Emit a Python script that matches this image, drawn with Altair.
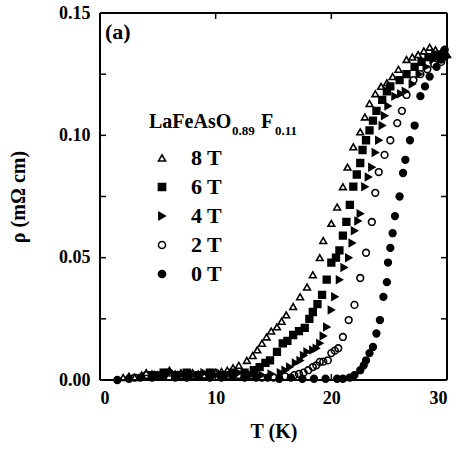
import altair as alt
import pandas as pd

# ---------------- data ----------------
fields = ["8 T", "6 T", "4 T", "2 T", "0 T"]

T_8 = [2.0, 2.5, 3.0, 3.6, 4.0, 4.5, 5.0, 5.5, 6.0, 6.5, 7.0, 7.5, 8.0, 8.5, 9.0, 9.5,
       10.0, 10.5, 11.0, 11.5, 12.0, 12.7, 13.2, 13.6, 14.0, 14.4, 14.8, 15.3, 15.7, 16.1,
       16.7, 17.3, 17.9, 18.4, 19.0, 19.3, 20.0, 20.5, 21.0, 21.4, 21.9, 22.5, 22.9, 23.3,
       23.8, 24.3, 24.8, 25.3, 25.8, 26.5, 27.0, 27.5, 28.0, 28.5, 29.0, 29.5, 30.0]
R_8 = [0.001, 0.0015, 0.001, 0.002, 0.003, 0.0025, 0.002, 0.003, 0.004, 0.0025, 0.003, 0.002,
       0.003, 0.0025, 0.002, 0.003, 0.003, 0.0035, 0.004, 0.005, 0.006, 0.008, 0.010, 0.0123,
       0.015, 0.0176, 0.020, 0.0217, 0.024, 0.0266, 0.030, 0.034, 0.038, 0.043, 0.050, 0.057,
       0.064, 0.0707, 0.079, 0.087, 0.0953, 0.1014, 0.1075, 0.113, 0.117, 0.120, 0.1215, 0.124,
       0.127, 0.131, 0.132, 0.133, 0.1345, 0.136, 0.135, 0.134, 0.133]

T_6 = [4.5, 5.5, 6.5, 7.5, 8.5, 9.5, 10.5, 11.5, 12.5, 13.3, 13.8, 14.3, 14.7, 15.3, 15.8,
       16.2, 16.7, 17.2, 17.7, 18.1, 18.4, 18.8, 19.2, 19.6, 20.0, 20.4, 20.7, 21.0, 21.3,
       21.6, 21.9, 22.2, 22.5, 22.7, 23.0, 23.3, 23.6, 23.9, 24.4, 24.8, 25.1, 25.9, 26.5,
       27.2, 27.8, 28.4, 29.0, 29.6]
R_6 = [0.002, 0.003, 0.002, 0.003, 0.002, 0.003, 0.002, 0.003, 0.003, 0.004, 0.0053, 0.007,
       0.008, 0.0115, 0.015, 0.016, 0.0184, 0.020, 0.0213, 0.025, 0.0278, 0.031, 0.0348, 0.041,
       0.048, 0.050, 0.053, 0.059, 0.0646, 0.0716, 0.079, 0.084, 0.0887, 0.094, 0.098, 0.102,
       0.106, 0.110, 0.1145, 0.118, 0.120, 0.1226, 0.125, 0.128, 0.130, 0.132, 0.133, 0.133]

T_4 = [5.0, 6.0, 7.0, 8.0, 9.0, 10.0, 11.0, 12.0, 13.0, 14.0, 14.8, 15.6, 16.0, 16.4, 16.9,
       17.3, 17.6, 17.9, 18.4, 18.7, 19.0, 19.3, 19.6, 20.0, 20.3, 20.7, 21.1, 21.5, 21.8,
       22.0, 22.3, 22.5, 22.9, 23.2, 23.5, 23.8, 24.1, 24.4, 24.6, 24.9, 25.5, 26.0, 26.4,
       27.0, 27.6, 28.2, 28.8, 29.4, 30.0]
R_4 = [0.002, 0.003, 0.002, 0.002, 0.003, 0.002, 0.002, 0.003, 0.002, 0.002, 0.0025, 0.003,
       0.004, 0.0053, 0.007, 0.008, 0.010, 0.0115, 0.0123, 0.013, 0.015, 0.018, 0.0217, 0.0286,
       0.034, 0.041, 0.046, 0.050, 0.056, 0.061, 0.065, 0.068, 0.079, 0.083, 0.087, 0.093,
       0.098, 0.104, 0.108, 0.112, 0.116, 0.117, 0.118, 0.121, 0.125, 0.128, 0.131, 0.132, 0.132]

T_2 = [3.0, 4.0, 5.0, 6.0, 7.0, 8.0, 9.0, 10.0, 11.0, 12.0, 13.0, 14.0, 15.0, 16.0, 16.8,
       17.2, 17.6, 18.0, 18.4, 18.7, 19.0, 19.3, 19.7, 20.0, 20.3, 20.6, 21.0, 21.5, 22.0,
       22.5, 23.0, 23.5, 23.8, 24.1, 24.6, 25.1, 25.7, 26.1, 26.5, 27.1, 27.7, 28.3, 28.9, 29.5]
R_2 = [0.001, 0.002, 0.002, 0.003, 0.002, 0.002, 0.002, 0.003, 0.002, 0.002, 0.002, 0.001,
       0.001, 0.0015, 0.002, 0.0025, 0.003, 0.004, 0.0053, 0.006, 0.0074, 0.0075, 0.008, 0.011,
       0.012, 0.013, 0.0176, 0.0245, 0.0307, 0.0417, 0.052, 0.0646, 0.0765, 0.085, 0.092, 0.098,
       0.105, 0.110, 0.1165, 0.1226, 0.125, 0.127, 0.129, 0.130]

T_0 = [1.5, 2.5, 3.5, 4.5, 5.5, 6.5, 7.5, 8.5, 9.5, 10.5, 11.5, 12.5, 13.5, 14.5, 15.5,
       16.5, 17.5, 18.5, 19.5, 20.5, 21.0, 21.6, 22.0, 22.5, 22.8, 23.0, 23.3, 23.6, 23.9,
       24.2, 24.5, 24.8, 24.9, 25.1, 25.3, 25.5, 25.9, 26.2, 26.4, 26.8, 27.2, 27.7, 28.1,
       28.5, 29.1, 29.5, 29.8]
R_0 = [0.000, 0.0005, 0.001, 0.001, 0.0015, 0.001, 0.001, 0.0015, 0.001, 0.001, 0.0015, 0.001,
       0.001, 0.001, 0.0005, 0.001, 0.0005, 0.0005, 0.0005, 0.0005, 0.0005, 0.001, 0.002,
       0.004, 0.006, 0.008, 0.011, 0.0135, 0.019, 0.0245, 0.034, 0.040, 0.048, 0.054, 0.060,
       0.067, 0.075, 0.0846, 0.090, 0.098, 0.104, 0.116, 0.120, 0.124, 0.128, 0.131, 0.135]

x_ticks = [0, 10, 20, 30]
y_ticks = [0.00, 0.05, 0.10, 0.15]
y_minor = [0.025, 0.05, 0.075, 0.10, 0.125]
x_minor = [10, 20]

series = {"8 T": (T_8, R_8), "6 T": (T_6, R_6), "4 T": (T_4, R_4),
          "2 T": (T_2, R_2), "0 T": (T_0, R_0)}
rows = []
for f in fields:
    ts, rs = series[f]
    for t, r in zip(ts, rs):
        rows.append({"T": t, "rho": r, "field": f})
df = pd.DataFrame(rows)

W, H = 347, 367
TICK = 6
FONT = "Liberation Serif"
xs = alt.Scale(domain=[0, 30], nice=False, zero=False)
ys = alt.Scale(domain=[0, 0.15], nice=False, zero=False)

leg = alt.Legend(orient="none", legendX=47, legendY=134, title=None,
                 labelFont=FONT, labelFontSize=22, labelFontWeight="bold",
                 labelColor="black", symbolSize=50, symbolStrokeWidth=1.6,
                 rowPadding=7, labelOffset=18, padding=0, symbolOffset=4)

base = alt.Chart(df)

pts = base.mark_point(size=45, strokeWidth=1.6, opacity=1).encode(
    x=alt.X("T:Q", scale=xs,
            axis=alt.Axis(values=x_ticks, format="d", tickSize=0, domain=False, grid=False,
                          labelPadding=9, labelFont=FONT, labelFontSize=18,
                          labelFontWeight="bold", labelColor="black",
                          title="T (K)", titleFont=FONT, titleFontSize=20,
                          titleFontWeight="bold", titleColor="black", titlePadding=14)),
    y=alt.Y("rho:Q", scale=ys,
            axis=alt.Axis(values=y_ticks, format=".2f", tickSize=0, domain=False, grid=False,
                          labelPadding=10, labelFont=FONT, labelFontSize=18,
                          labelFontWeight="bold", labelColor="black",
                          title="ρ (mΩ cm)", titleFont=FONT, titleFontSize=20,
                          titleFontWeight="bold", titleColor="black", titlePadding=30)),
    shape=alt.Shape("field:N", sort=fields,
                    scale=alt.Scale(domain=fields,
                                    range=["triangle-up", "square", "triangle-right", "circle", "circle"]),
                    legend=leg),
    fill=alt.Fill("field:N", sort=fields,
                  scale=alt.Scale(domain=fields,
                                  range=["transparent", "black", "black", "transparent", "black"]),
                  legend=leg),
    stroke=alt.Stroke("field:N", sort=fields,
                      scale=alt.Scale(domain=fields,
                                      range=["black", "black", "black", "black", "black"]),
                      legend=leg),
)

# inward tick marks on all four sides
ydf = pd.DataFrame({"v": y_minor})
xdf = pd.DataFrame({"v": x_minor})
rule_style = dict(color="black", strokeWidth=1.5)
tick_left = alt.Chart(ydf).mark_rule(**rule_style).encode(
    y=alt.Y("v:Q", scale=ys, axis=None), x=alt.value(0), x2=alt.value(TICK))
tick_right = alt.Chart(ydf).mark_rule(**rule_style).encode(
    y=alt.Y("v:Q", scale=ys, axis=None), x=alt.value(W - TICK), x2=alt.value(W))
tick_bottom = alt.Chart(xdf).mark_rule(**rule_style).encode(
    x=alt.X("v:Q", scale=xs, axis=None), y=alt.value(H - TICK), y2=alt.value(H))
tick_top = alt.Chart(xdf).mark_rule(**rule_style).encode(
    x=alt.X("v:Q", scale=xs, axis=None), y=alt.value(0), y2=alt.value(TICK))

# plot frame (all four sides)
frame_df = pd.DataFrame({"side": ["frame"]})
frame_style = dict(color="black", strokeWidth=2)
frame = [
    alt.Chart(frame_df).mark_rule(**frame_style).encode(x=alt.value(0), y=alt.value(0), y2=alt.value(H)),
    alt.Chart(frame_df).mark_rule(**frame_style).encode(x=alt.value(W), y=alt.value(0), y2=alt.value(H)),
    alt.Chart(frame_df).mark_rule(**frame_style).encode(y=alt.value(0), x=alt.value(0), x2=alt.value(W)),
    alt.Chart(frame_df).mark_rule(**frame_style).encode(y=alt.value(H), x=alt.value(0), x2=alt.value(W)),
]

def txt(s, x, y, size):
    return alt.Chart(pd.DataFrame({"t": [s]})).mark_text(
        font=FONT, fontSize=size, fontWeight="bold", align="left",
        baseline="alphabetic", color="black").encode(
        x=alt.value(x), y=alt.value(y), text="t:N")

panel = txt("(a)", 5, 26, 22)
title_layers = [txt("LaFeAsO", 49, 115, 20), txt("0.89", 132, 122, 13),
                txt("F", 161, 115, 20), txt("0.11", 175, 122, 13)]

chart = alt.layer(pts, tick_left, tick_right, tick_bottom, tick_top, *frame, panel,
                  *title_layers).resolve_axis(
    x="independent", y="independent"
).properties(
    width=W, height=H, autosize="none",
    padding={"left": 100, "top": 13, "right": 9, "bottom": 70},
).configure_view(stroke="black", strokeWidth=2).configure(background="white")

chart.save("out.html", embed_options={"renderer": "svg", "actions": False})
